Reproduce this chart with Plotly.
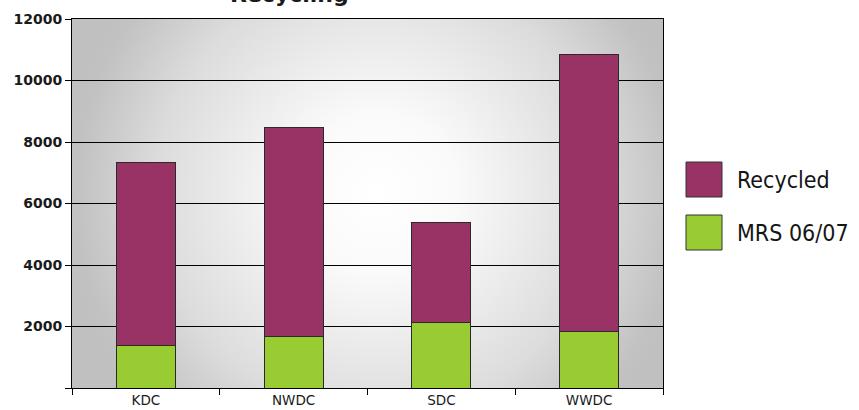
import base64
import plotly.graph_objects as go

# ---- data ----
categories = ["KDC", "NWDC", "SDC", "WWDC"]
series_names = ["MRS 06/07", "Recycled"]
mrs_values = [1380, 1665, 2140, 1850]
recycled_values = [5950, 6795, 3250, 9010]
ytick_values = [0, 2000, 4000, 6000, 8000, 10000, 12000]
ytick_labels = ["", "2000", "4000", "6000", "8000", "10000", "12000"]
title_text = "Recycling"

colors = {"MRS 06/07": "#99CC33", "Recycled": "#993366"}

fig = go.Figure()
fig.add_trace(go.Bar(x=categories, y=mrs_values, name=series_names[0],
                     marker=dict(color=colors[series_names[0]], line=dict(color="#2a2a2a", width=1))))
fig.add_trace(go.Bar(x=categories, y=recycled_values, name=series_names[1],
                     marker=dict(color=colors[series_names[1]], line=dict(color="#2a2a2a", width=1))))

# radial gradient background as SVG image
svg = ('<svg xmlns="http://www.w3.org/2000/svg" width="600" height="370" viewBox="0 0 600 370" preserveAspectRatio="none">'
       '<defs><radialGradient id="g" gradientUnits="userSpaceOnUse" cx="310" cy="175" r="320">'
       '<stop offset="0" stop-color="#ffffff"/><stop offset="0.25" stop-color="#fafafa"/>'
       '<stop offset="0.7" stop-color="#dcdcdc"/><stop offset="0.95" stop-color="#c2c2c2"/>'
       '<stop offset="1" stop-color="#c0c0c0"/></radialGradient></defs>'
       '<rect width="600" height="370" fill="url(#g)"/></svg>')
uri = "data:image/svg+xml;base64," + base64.b64encode(svg.encode()).decode()

W, H = 859, 410
L, R, T, B = 72, 196, 19, 22
pw, ph = W - L - R, H - T - B

def px(x):
    return (x - L) / pw

def py(y):
    return (H - B - y) / ph

font = "DejaVu Sans"
legend_font = "DejaVu Sans Condensed, DejaVu Sans"
shapes = []
annotations = []
# manual legend (Recycled on top, MRS below)
legend_items = [(series_names[1], 162, 197), (series_names[0], 215, 250)]
for name, y0, y1 in legend_items:
    shapes.append(dict(type="rect", xref="paper", yref="paper",
                       x0=px(686), x1=px(722), y0=py(y1), y1=py(y0),
                       fillcolor=colors[name], line=dict(color="#333333", width=1)))
    annotations.append(dict(text=name, xref="paper", yref="paper",
                            x=px(735), y=py((y0 + y1) / 2), xanchor="left", yanchor="middle",
                            showarrow=False, font=dict(family=legend_font, size=23, color="#151515")))

fig.update_layout(
    width=W, height=H,
    margin=dict(l=L, r=R, t=T, b=B),
    barmode="stack", bargap=0.6,
    showlegend=False,
    paper_bgcolor="white",
    plot_bgcolor="rgba(0,0,0,0)",
    title=dict(text="<b>" + title_text + "</b>", xref="container", yref="container",
               x=230 / W, xanchor="left", y=1 - 2 / H, yanchor="bottom",
               font=dict(family=font, size=22, color="#1a1a1a")),
    images=[dict(source=uri, xref="paper", yref="paper", x=0, y=1, sizex=1, sizey=1,
                 xanchor="left", yanchor="top", sizing="stretch", layer="below")],
    shapes=shapes,
    annotations=annotations,
    font=dict(family=font, color="#1a1a1a"),
)
fig.update_xaxes(showline=True, linecolor="black", linewidth=1, mirror=True, automargin=False,
                 ticks="outside", tickson="boundaries", ticklen=6, tickcolor="black",
                 tickfont=dict(family=font, size=13.5, color="#1a1a1a"), showgrid=False)
fig.update_yaxes(range=[0, 12000], tickvals=ytick_values, ticktext=ytick_labels, automargin=False,
                 showline=True, linecolor="black", linewidth=1, mirror=True,
                 ticks="outside", ticklen=6, tickcolor="black",
                 showgrid=True, gridcolor="black", gridwidth=1, zeroline=False,
                 tickfont=dict(family=font, size=14, color="#1a1a1a", weight="bold"))

fig.write_html("out.html", config={"displayModeBar": False},
               post_script="document.body.style.margin='0px';document.body.style.overflow='hidden';")
